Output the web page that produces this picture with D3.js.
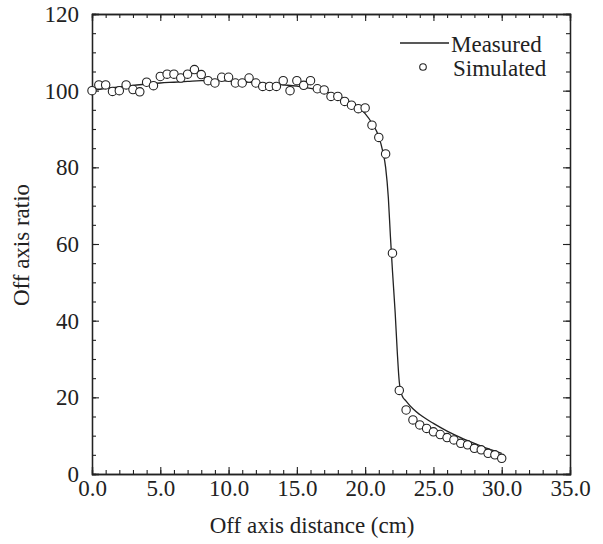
<!DOCTYPE html>
<html>
<head>
<meta charset="utf-8">
<script src="https://cdn.jsdelivr.net/npm/d3@7"></script>
<style>
  body { margin: 0; background: #fff; }
  text { font-family: "Liberation Serif", "Times New Roman", serif; fill: #222; }
</style>
</head>
<body>
<svg></svg>
<script>
// measured profile (line)
const measuredX = [0, 1, 2, 3, 4, 5, 6, 7, 8, 9, 10, 11, 12, 13, 14, 15, 16, 17, 18, 19, 19.5, 20, 20.5, 21, 21.3, 21.5, 21.7, 21.85, 22, 22.2, 22.35, 22.5, 22.7, 23, 23.5, 24, 25, 26, 27, 28, 29, 30];
const measuredY = [100, 100.6, 101, 101.4, 101.7, 102, 102.2, 102.4, 102.6, 102.6, 102.5, 102.3, 102.1, 101.8, 101.5, 101.2, 100.6, 99.8, 98.6, 96.8, 95.7, 94, 91.5, 88, 84, 80, 72, 62, 53, 42, 32, 24, 20.5, 19, 17, 15.5, 13.2, 11.2, 9.5, 8, 6.6, 5.4];

// simulated points, every 0.5 cm
const simX = [0, 0.5, 1, 1.5, 2, 2.5, 3, 3.5, 4, 4.5, 5, 5.5, 6, 6.5, 7, 7.5, 8, 8.5, 9, 9.5, 10, 10.5, 11, 11.5, 12, 12.5, 13, 13.5, 14, 14.5, 15, 15.5, 16, 16.5, 17, 17.5, 18, 18.5, 19, 19.5, 20, 20.5, 21, 21.5, 22, 22.5, 23, 23.5, 24, 24.5, 25, 25.5, 26, 26.5, 27, 27.5, 28, 28.5, 29, 29.5, 30];
const simY = [100, 101.5, 101.5, 99.8, 100, 101.5, 100.3, 99.7, 102.2, 101.3, 103.7, 104.3, 104.3, 103.3, 104.3, 105.5, 104.2, 102.6, 102, 103.5, 103.5, 102, 102, 103.3, 102, 101.1, 101.1, 101.1, 102.6, 100, 102.6, 101.4, 102.6, 100.5, 100.2, 98.5, 98.5, 97.2, 96.2, 95.3, 95.5, 91, 87.8, 83.5, 57.6, 21.8, 16.7, 14.1, 12.8, 11.9, 11, 10.3, 9.5, 8.9, 8, 7.6, 6.7, 6.3, 5.4, 5, 4.1];

const xMajor = [0, 5, 10, 15, 20, 25, 30, 35];
const yMajor = [0, 20, 40, 60, 80, 100, 120];

const width = 603;
const height = 544;
const fontSize = 23;

const svg = d3.select('svg')
  .attr('width', width)
  .attr('height', height);

const x = d3.scaleLinear().domain([0, 35]).range([92, 570]);
const y = d3.scaleLinear().domain([0, 120]).range([474, 14]);

const xMinor = d3.range(0, 35.01, 1);
const yMinor = d3.range(0, 120.01, 5);

function styleAxis(g) {
  g.select('.domain').attr('stroke', '#222').attr('stroke-width', 1.3);
  g.selectAll('.tick line').attr('stroke', '#222').attr('stroke-width', 1.1);
  g.selectAll('text').attr('font-size', fontSize).attr('fill', '#222')
    .attr('font-family', '"Liberation Serif", serif');
}

// minor ticks on all four sides
svg.append('g').attr('transform', `translate(0,${y(0)})`)
  .call(d3.axisBottom(x).tickValues(xMinor).tickSize(-4).tickFormat(''))
  .call(styleAxis);
svg.append('g').attr('transform', `translate(0,${y(120)})`)
  .call(d3.axisTop(x).tickValues(xMinor).tickSize(-4).tickFormat(''))
  .call(styleAxis);
svg.append('g').attr('transform', `translate(${x(0)},0)`)
  .call(d3.axisLeft(y).tickValues(yMinor).tickSize(-4).tickFormat(''))
  .call(styleAxis);
svg.append('g').attr('transform', `translate(${x(35)},0)`)
  .call(d3.axisRight(y).tickValues(yMinor).tickSize(-4).tickFormat(''))
  .call(styleAxis);

// major ticks + labels
svg.append('g').attr('transform', `translate(0,${y(0)})`)
  .call(d3.axisBottom(x).tickValues(xMajor).tickSize(-7).tickPadding(6).tickFormat(d3.format('.1f')))
  .call(styleAxis);
svg.append('g').attr('transform', `translate(0,${y(120)})`)
  .call(d3.axisTop(x).tickValues(xMajor).tickSize(-7).tickFormat(''))
  .call(styleAxis);
svg.append('g').attr('transform', `translate(${x(0)},0)`)
  .call(d3.axisLeft(y).tickValues(yMajor).tickSize(-7).tickPadding(13))
  .call(styleAxis);
svg.append('g').attr('transform', `translate(${x(35)},0)`)
  .call(d3.axisRight(y).tickValues(yMajor).tickSize(-7).tickFormat(''))
  .call(styleAxis);

// measured line
const line = d3.line()
  .x(d => x(d[0]))
  .y(d => y(d[1]))
  .curve(d3.curveMonotoneX);

svg.append('path')
  .datum(d3.zip(measuredX, measuredY))
  .attr('d', line)
  .attr('fill', 'none')
  .attr('stroke', '#222')
  .attr('stroke-width', 1.3);

// simulated circles
svg.append('g')
  .selectAll('circle')
  .data(d3.zip(simX, simY))
  .enter().append('circle')
  .attr('cx', d => x(d[0]))
  .attr('cy', d => y(d[1]))
  .attr('r', 4.2)
  .attr('fill', '#fff')
  .attr('stroke', '#222')
  .attr('stroke-width', 1.1);

// legend
const legend = svg.append('g');
legend.append('line')
  .attr('x1', 400).attr('x2', 449)
  .attr('y1', 43).attr('y2', 43)
  .attr('stroke', '#222').attr('stroke-width', 1.3);
legend.append('text')
  .attr('x', 451).attr('y', 52)
  .attr('font-size', fontSize)
  .text('Measured');
legend.append('circle')
  .attr('cx', 423).attr('cy', 67).attr('r', 3.3)
  .attr('fill', '#fff').attr('stroke', '#222').attr('stroke-width', 1.1);
legend.append('text')
  .attr('x', 453).attr('y', 76)
  .attr('font-size', fontSize)
  .text('Simulated');

// axis titles
svg.append('text')
  .attr('x', 312).attr('y', 533)
  .attr('text-anchor', 'middle')
  .attr('font-size', fontSize)
  .text('Off axis distance (cm)');

svg.append('text')
  .attr('transform', 'translate(29,245) rotate(-90)')
  .attr('text-anchor', 'middle')
  .attr('font-size', fontSize)
  .text('Off axis ratio');
</script>
</body>
</html>
